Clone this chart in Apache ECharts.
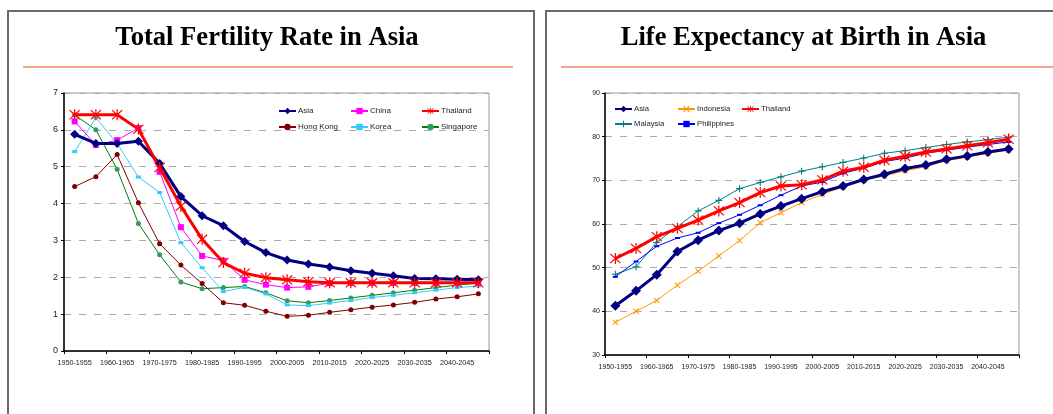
<!DOCTYPE html>
<html>
<head>
<meta charset="utf-8">
<script src="https://cdn.jsdelivr.net/npm/echarts@6/dist/echarts.min.js"></script>
<style>
  html, body { margin: 0; padding: 0; background: #fff; }
  #chart { width: 1053px; height: 414px; }
</style>
</head>
<body>
<div id="chart"></div>
<script>
// Five-year periods shared by both panels
const periods = ['1950-1955','1955-1960','1960-1965','1965-1970','1970-1975','1975-1980','1980-1985','1985-1990','1990-1995','1995-2000',
                 '2000-2005','2005-2010','2010-2015','2015-2020','2020-2025','2025-2030','2030-2035','2035-2040','2040-2045','2045-2050'];

// Total fertility rate (children per woman)
const tfrAsia      = [5.88,5.63,5.63,5.69,5.09,4.19,3.67,3.40,2.97,2.67,2.47,2.36,2.28,2.18,2.11,2.04,1.97,1.96,1.95,1.93];
const tfrChina     = [6.23,5.59,5.72,6.05,4.86,3.36,2.58,2.45,1.93,1.80,1.72,1.74,1.84,1.85,1.85,1.85,1.85,1.85,1.85,1.85];
const tfrThailand  = [6.41,6.41,6.41,6.02,4.98,3.93,3.03,2.40,2.11,1.99,1.93,1.88,1.85,1.85,1.85,1.85,1.85,1.85,1.85,1.85];
const tfrHongKong  = [4.46,4.73,5.33,4.02,2.91,2.33,1.83,1.31,1.24,1.08,0.94,0.97,1.05,1.12,1.19,1.25,1.32,1.41,1.47,1.55];
const tfrKorea     = [5.41,6.33,5.63,4.72,4.30,2.94,2.26,1.61,1.73,1.55,1.25,1.23,1.30,1.37,1.45,1.51,1.58,1.65,1.72,1.76];
const tfrSingapore = [6.41,6.00,4.93,3.46,2.61,1.87,1.69,1.72,1.75,1.58,1.36,1.31,1.37,1.44,1.51,1.58,1.65,1.72,1.79,1.84];

// Life expectancy at birth (years)
const leAsia        = [41.3,44.7,48.4,53.7,56.3,58.5,60.2,62.3,64.1,65.8,67.4,68.7,70.2,71.4,72.7,73.5,74.8,75.6,76.5,77.2];
const leIndonesia   = [37.5,40.0,42.5,46.0,49.2,52.7,56.2,60.3,62.6,64.9,66.8,68.5,70.1,71.0,72.2,73.1,74.5,75.3,76.2,76.9];
const leThailand    = [52.1,54.4,57.1,59.0,60.9,63.0,64.9,67.2,68.7,69.0,70.1,72.1,73.0,74.6,75.5,76.5,77.2,77.9,78.6,79.4];
const leMalaysia    = [48.5,50.2,55.8,59.4,63.0,65.4,68.1,69.5,70.8,72.1,73.1,74.1,75.1,76.2,76.8,77.5,78.2,78.8,79.3,79.9];
const lePhilippines = [47.9,51.4,54.9,56.8,58.0,60.2,62.1,64.3,66.6,68.7,69.6,71.6,72.8,74.3,75.1,76.2,76.9,77.6,78.2,78.8];

const tfrTicks = { min: 0, max: 7, interval: 1 };
const leTicks  = { min: 30, max: 90, interval: 10 };

// Marker shapes
const STAR  = 'path://M9,0 L11,0 L11,20 L9,20 Z M1,2.4 L2.4,1 L19,17.6 L17.6,19 Z M17.6,1 L19,2.4 L2.4,19 L1,17.6 Z';
const PLUS  = 'path://M4.2,0 L5.8,0 L5.8,10 L4.2,10 Z M0,4.2 L10,4.2 L10,5.8 L0,5.8 Z';
const CROSS = 'path://M0.6,1.7 L1.7,0.6 L9.4,8.3 L8.3,9.4 Z M8.3,0.6 L9.4,1.7 L1.7,9.4 L0.6,8.3 Z';

const SANS = "'Liberation Sans', Arial, sans-serif";
const SERIF = "'Liberation Serif', 'DejaVu Serif', serif";

function xAxisFor(gridIndex, fontSize, margin) {
  return {
    type: 'category', gridIndex, data: periods, boundaryGap: true,
    axisLine: { show: true, lineStyle: { color: '#000', width: 1.5 } },
    axisTick: { show: true, interval: 1, length: 3, inside: false, lineStyle: { color: '#000' } },
    axisLabel: { interval: 1, fontSize, color: '#222', fontFamily: SANS, margin },
    splitLine: { show: false }
  };
}
function yAxisFor(gridIndex, ticks, fontSize, margin) {
  return {
    type: 'value', gridIndex, min: ticks.min, max: ticks.max, interval: ticks.interval,
    axisLine: { show: true, lineStyle: { color: '#000', width: 1.5 } },
    axisTick: { show: true, length: 3, inside: false, lineStyle: { color: '#000' } },
    axisLabel: { fontSize, color: '#222', fontFamily: SANS, margin },
    splitLine: { show: true, lineStyle: { color: '#aaa', type: [7, 8], width: 1 } }
  };
}
function line(name, data, axisIdx, color, width, symbol, size, markerColor) {
  return {
    name, type: 'line', data, xAxisIndex: axisIdx, yAxisIndex: axisIdx,
    symbol, symbolSize: size, showSymbol: true,
    lineStyle: { color, width },
    itemStyle: { color: markerColor || color, borderWidth: 0 },
    emphasis: { disabled: true }, z: width > 2 ? 4 : 3
  };
}
function legendCol(names, left, top, gap, fontSize) {
  return {
    data: names, orient: 'vertical', left, top, padding: 0, itemGap: gap,
    itemWidth: 17, itemHeight: 8, selectedMode: false,
    textStyle: { fontSize, color: '#222', fontFamily: SANS, lineHeight: 10, padding: [0, 0, 0, -3] }
  };
}

const chart = echarts.init(document.getElementById('chart'), null, { renderer: 'canvas' });
chart.setOption({
  animation: false,
  backgroundColor: '#fff',
  graphic: [
    { type: 'rect', shape: { x: 8, y: 11, width: 526, height: 430 }, style: { fill: 'none', stroke: '#6b6b6b', lineWidth: 2 }, silent: true },
    { type: 'rect', shape: { x: 546, y: 11, width: 530, height: 430 }, style: { fill: 'none', stroke: '#6b6b6b', lineWidth: 2 }, silent: true },
    { type: 'line', shape: { x1: 23, y1: 67, x2: 513, y2: 67 }, style: { stroke: '#f7a48a', lineWidth: 2 }, silent: true },
    { type: 'line', shape: { x1: 561, y1: 67, x2: 1053, y2: 67 }, style: { stroke: '#f7a48a', lineWidth: 2 }, silent: true },
    { type: 'text', x: 267, y: 38.5, style: { text: 'Total Fertility Rate in Asia', font: 'bold 26.6px ' + SERIF, fill: '#000', align: 'center', verticalAlign: 'middle' }, silent: true },
    { type: 'text', x: 803.5, y: 38.5, style: { text: 'Life Expectancy at Birth in Asia', font: 'bold 26.6px ' + SERIF, fill: '#000', align: 'center', verticalAlign: 'middle' }, silent: true }
  ],
  grid: [
    { left: 64, top: 93, width: 425, height: 258, show: true, borderColor: '#999', borderWidth: 1, backgroundColor: 'transparent' },
    { left: 605, top: 93, width: 414, height: 262, show: true, borderColor: '#999', borderWidth: 1, backgroundColor: 'transparent' }
  ],
  xAxis: [ xAxisFor(0, 7.2, 9), xAxisFor(1, 7, 9) ],
  yAxis: [ yAxisFor(0, tfrTicks, 9, 6), yAxisFor(1, leTicks, 7, 5) ],
  legend: [
    legendCol(['Asia', 'Hong Kong'], 278, 106, 6, 8),
    legendCol(['China', 'Korea'], 350, 106, 6, 8),
    legendCol(['Thailand', 'Singapore'], 421, 106, 6, 8),
    legendCol(['Asia ', 'Malaysia'], 614, 104, 5, 7.7),
    legendCol(['Indonesia', 'Philippines'], 677, 104, 5, 7.7),
    legendCol(['Thailand '], 741, 104, 5, 7.7)
  ],
  series: [
    line('Singapore', tfrSingapore, 0, '#008000', 1, 'circle', 5, '#339966'),
    line('Hong Kong', tfrHongKong, 0, '#800000', 1, 'circle', 5),
    line('Korea', tfrKorea, 0, '#33ccff', 1, 'rect', [5, 3]),
    line('China', tfrChina, 0, '#ff00ff', 1, 'rect', 6),
    line('Asia', tfrAsia, 0, '#000080', 3, 'diamond', 9),
    line('Thailand', tfrThailand, 0, '#ff0000', 3, STAR, 11),

    line('Indonesia', leIndonesia, 1, '#ff9900', 1, CROSS, 6),
    line('Asia ', leAsia, 1, '#000080', 3, 'diamond', 10),
    line('Malaysia', leMalaysia, 1, '#008080', 1, PLUS, 7),
    line('Philippines', lePhilippines, 1, '#0000ff', 1, 'rect', [5, 2]),
    line('Thailand ', leThailand, 1, '#ff0000', 3, STAR, 11)
  ]
});
</script>
</body>
</html>
